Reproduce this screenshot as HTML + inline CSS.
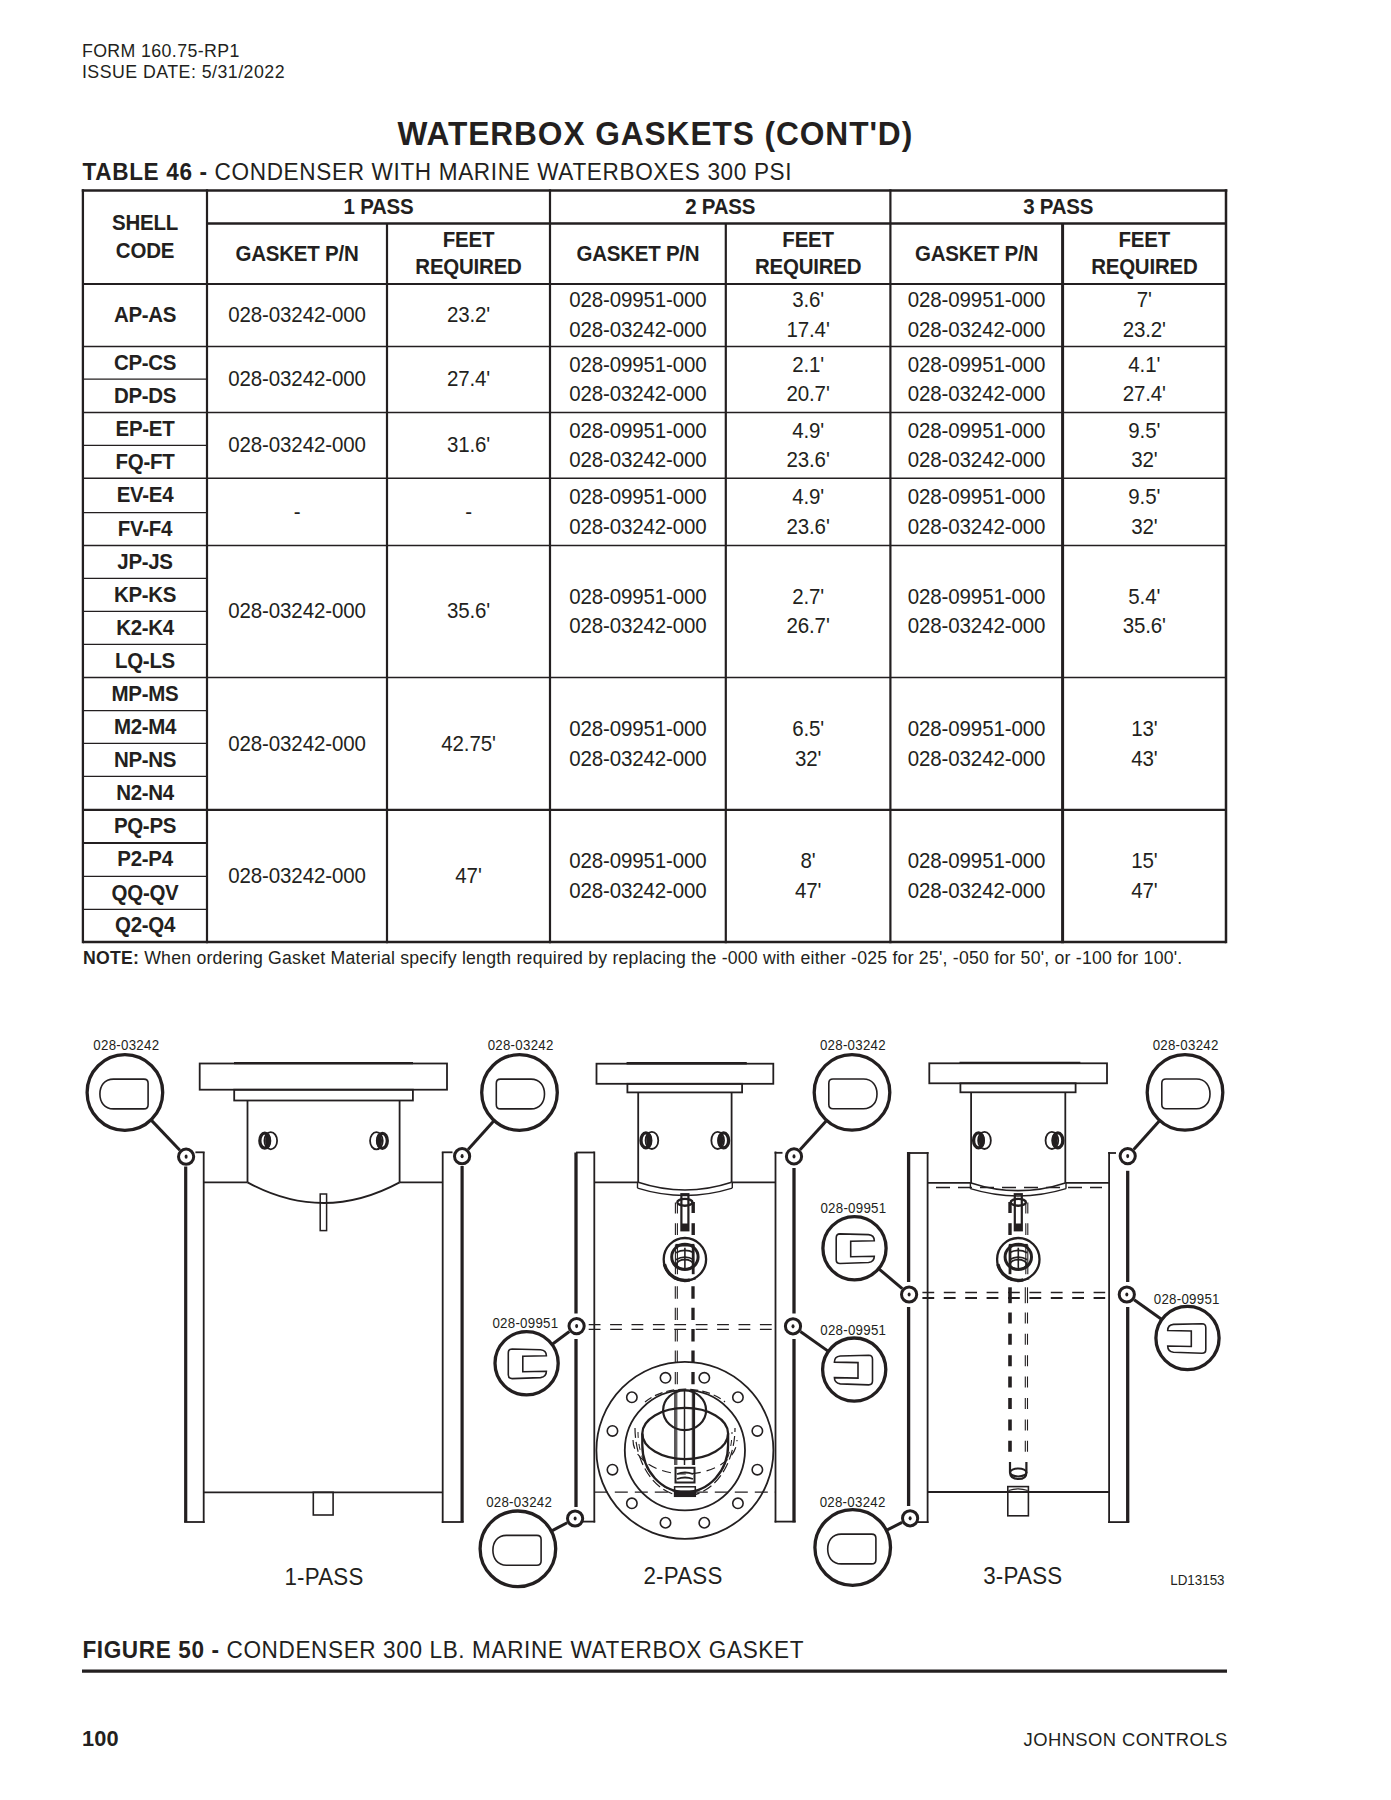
<!DOCTYPE html>
<html><head><meta charset="utf-8"><title>Waterbox Gaskets</title>
<style>
html,body{margin:0;padding:0;background:#fff;}
body{width:1391px;height:1800px;overflow:hidden;position:relative;}
svg{position:absolute;left:0;top:0;}
text{font-family:"Liberation Sans",sans-serif;fill:#231f20;}
</style></head>
<body>
<svg width="1391" height="1800" viewBox="0 0 1391 1800">
<text transform="translate(81.9 57.0) scale(1 1.041)" font-size="17.8" letter-spacing="0.371">FORM 160.75-RP1</text>
<text transform="translate(81.9 77.9) scale(1 1.041)" font-size="17.8" letter-spacing="0.46">ISSUE DATE: 5/31/2022</text>
<text transform="translate(397.4 144.9) scale(1 1.041)" font-size="31.7" letter-spacing="0.917"><tspan font-weight="bold">WATERBOX GASKETS (CONT&#39;D)</tspan></text>
<text transform="translate(82.5 179.9) scale(1 1.041)" font-size="22.6" letter-spacing="0.64"><tspan font-weight="bold">TABLE 46 - </tspan>CONDENSER WITH MARINE WATERBOXES 300 PSI</text>
<g stroke="#231f20" fill="none">
<line x1="81.8" y1="190.5" x2="1227.3" y2="190.5" stroke-width="2.6"/>
<line x1="207" y1="223.5" x2="1226" y2="223.5" stroke-width="2.6"/>
<line x1="83" y1="284" x2="1226" y2="284" stroke-width="2.2"/>
<line x1="83" y1="346.5" x2="1226" y2="346.5" stroke-width="1.5"/>
<line x1="83" y1="412.4" x2="1226" y2="412.4" stroke-width="1.5"/>
<line x1="83" y1="478.3" x2="1226" y2="478.3" stroke-width="1.5"/>
<line x1="83" y1="545.5" x2="1226" y2="545.5" stroke-width="1.5"/>
<line x1="83" y1="677.5" x2="1226" y2="677.5" stroke-width="1.5"/>
<line x1="83" y1="809.9" x2="1226" y2="809.9" stroke-width="2.1"/>
<line x1="83" y1="942" x2="1226" y2="942" stroke-width="2.6"/>
<line x1="83" y1="379.2" x2="207" y2="379.2" stroke-width="1.3"/>
<line x1="83" y1="445.4" x2="207" y2="445.4" stroke-width="1.3"/>
<line x1="83" y1="512.6" x2="207" y2="512.6" stroke-width="1.3"/>
<line x1="83" y1="578.3" x2="207" y2="578.3" stroke-width="1.3"/>
<line x1="83" y1="611.4" x2="207" y2="611.4" stroke-width="1.3"/>
<line x1="83" y1="644.4" x2="207" y2="644.4" stroke-width="1.3"/>
<line x1="83" y1="710.6" x2="207" y2="710.6" stroke-width="1.3"/>
<line x1="83" y1="743.3" x2="207" y2="743.3" stroke-width="1.3"/>
<line x1="83" y1="776.4" x2="207" y2="776.4" stroke-width="1.3"/>
<line x1="83" y1="842.9" x2="207" y2="842.9" stroke-width="2.0"/>
<line x1="83" y1="876.3" x2="207" y2="876.3" stroke-width="1.3"/>
<line x1="83" y1="909.3" x2="207" y2="909.3" stroke-width="1.3"/>
<line x1="82.9" y1="189.2" x2="82.9" y2="943.3" stroke-width="2.3"/>
<line x1="207" y1="189.2" x2="207" y2="943.3" stroke-width="2.2"/>
<line x1="387" y1="223.5" x2="387" y2="943.3" stroke-width="2.2"/>
<line x1="550" y1="189.2" x2="550" y2="943.3" stroke-width="2.2"/>
<line x1="725.8" y1="223.5" x2="725.8" y2="943.3" stroke-width="2.2"/>
<line x1="890.4" y1="189.2" x2="890.4" y2="943.3" stroke-width="2.2"/>
<line x1="1062.6" y1="223.5" x2="1062.6" y2="943.3" stroke-width="3.0"/>
<line x1="1226" y1="189.2" x2="1226" y2="943.3" stroke-width="2.5"/>
</g>
<text transform="translate(145 230) scale(1 1.041)" font-size="20.5" font-weight="bold" text-anchor="middle" letter-spacing="-0.222">SHELL</text>
<text transform="translate(145 257.7) scale(1 1.041)" font-size="20.5" font-weight="bold" text-anchor="middle" letter-spacing="-0.222">CODE</text>
<text transform="translate(378.5 213.8) scale(1 1.041)" font-size="20.5" font-weight="bold" text-anchor="middle" letter-spacing="-0.222">1 PASS</text>
<text transform="translate(297.0 260.9) scale(1 1.041)" font-size="20.5" font-weight="bold" text-anchor="middle" letter-spacing="-0.222">GASKET P/N</text>
<text transform="translate(468.5 246.8) scale(1 1.041)" font-size="20.5" font-weight="bold" text-anchor="middle" letter-spacing="-0.222">FEET</text>
<text transform="translate(468.5 274.1) scale(1 1.041)" font-size="20.5" font-weight="bold" text-anchor="middle" letter-spacing="-0.222">REQUIRED</text>
<text transform="translate(720.2 213.8) scale(1 1.041)" font-size="20.5" font-weight="bold" text-anchor="middle" letter-spacing="-0.222">2 PASS</text>
<text transform="translate(637.9 260.9) scale(1 1.041)" font-size="20.5" font-weight="bold" text-anchor="middle" letter-spacing="-0.222">GASKET P/N</text>
<text transform="translate(808.1 246.8) scale(1 1.041)" font-size="20.5" font-weight="bold" text-anchor="middle" letter-spacing="-0.222">FEET</text>
<text transform="translate(808.1 274.1) scale(1 1.041)" font-size="20.5" font-weight="bold" text-anchor="middle" letter-spacing="-0.222">REQUIRED</text>
<text transform="translate(1058.2 213.8) scale(1 1.041)" font-size="20.5" font-weight="bold" text-anchor="middle" letter-spacing="-0.222">3 PASS</text>
<text transform="translate(976.5 260.9) scale(1 1.041)" font-size="20.5" font-weight="bold" text-anchor="middle" letter-spacing="-0.222">GASKET P/N</text>
<text transform="translate(1144.3 246.8) scale(1 1.041)" font-size="20.5" font-weight="bold" text-anchor="middle" letter-spacing="-0.222">FEET</text>
<text transform="translate(1144.3 274.1) scale(1 1.041)" font-size="20.5" font-weight="bold" text-anchor="middle" letter-spacing="-0.222">REQUIRED</text>
<text transform="translate(145 322.1) scale(1 1.041)" font-size="20.5" font-weight="bold" text-anchor="middle" letter-spacing="-0.3">AP-AS</text>
<text transform="translate(297.0 322.1) scale(1 1.041)" font-size="20.5" text-anchor="middle" letter-spacing="-0.117">028-03242-000</text>
<text transform="translate(468.5 322.1) scale(1 1.041)" font-size="20.5" text-anchor="middle" letter-spacing="-0.117">23.2&#39;</text>
<text transform="translate(637.9 307.4) scale(1 1.041)" font-size="20.5" text-anchor="middle" letter-spacing="-0.117">028-09951-000</text>
<text transform="translate(637.9 336.8) scale(1 1.041)" font-size="20.5" text-anchor="middle" letter-spacing="-0.117">028-03242-000</text>
<text transform="translate(976.5 307.4) scale(1 1.041)" font-size="20.5" text-anchor="middle" letter-spacing="-0.117">028-09951-000</text>
<text transform="translate(976.5 336.8) scale(1 1.041)" font-size="20.5" text-anchor="middle" letter-spacing="-0.117">028-03242-000</text>
<text transform="translate(808.1 307.4) scale(1 1.041)" font-size="20.5" text-anchor="middle" letter-spacing="-0.117">3.6&#39;</text>
<text transform="translate(808.1 336.8) scale(1 1.041)" font-size="20.5" text-anchor="middle" letter-spacing="-0.117">17.4&#39;</text>
<text transform="translate(1144.3 307.4) scale(1 1.041)" font-size="20.5" text-anchor="middle" letter-spacing="-0.117">7&#39;</text>
<text transform="translate(1144.3 336.8) scale(1 1.041)" font-size="20.5" text-anchor="middle" letter-spacing="-0.117">23.2&#39;</text>
<text transform="translate(145 369.7) scale(1 1.041)" font-size="20.5" font-weight="bold" text-anchor="middle" letter-spacing="-0.3">CP-CS</text>
<text transform="translate(145 402.6) scale(1 1.041)" font-size="20.5" font-weight="bold" text-anchor="middle" letter-spacing="-0.3">DP-DS</text>
<text transform="translate(297.0 386.2) scale(1 1.041)" font-size="20.5" text-anchor="middle" letter-spacing="-0.117">028-03242-000</text>
<text transform="translate(468.5 386.2) scale(1 1.041)" font-size="20.5" text-anchor="middle" letter-spacing="-0.117">27.4&#39;</text>
<text transform="translate(637.9 371.6) scale(1 1.041)" font-size="20.5" text-anchor="middle" letter-spacing="-0.117">028-09951-000</text>
<text transform="translate(637.9 400.9) scale(1 1.041)" font-size="20.5" text-anchor="middle" letter-spacing="-0.117">028-03242-000</text>
<text transform="translate(976.5 371.6) scale(1 1.041)" font-size="20.5" text-anchor="middle" letter-spacing="-0.117">028-09951-000</text>
<text transform="translate(976.5 400.9) scale(1 1.041)" font-size="20.5" text-anchor="middle" letter-spacing="-0.117">028-03242-000</text>
<text transform="translate(808.1 371.6) scale(1 1.041)" font-size="20.5" text-anchor="middle" letter-spacing="-0.117">2.1&#39;</text>
<text transform="translate(808.1 400.9) scale(1 1.041)" font-size="20.5" text-anchor="middle" letter-spacing="-0.117">20.7&#39;</text>
<text transform="translate(1144.3 371.6) scale(1 1.041)" font-size="20.5" text-anchor="middle" letter-spacing="-0.117">4.1&#39;</text>
<text transform="translate(1144.3 400.9) scale(1 1.041)" font-size="20.5" text-anchor="middle" letter-spacing="-0.117">27.4&#39;</text>
<text transform="translate(145 435.7) scale(1 1.041)" font-size="20.5" font-weight="bold" text-anchor="middle" letter-spacing="-0.3">EP-ET</text>
<text transform="translate(145 468.7) scale(1 1.041)" font-size="20.5" font-weight="bold" text-anchor="middle" letter-spacing="-0.3">FQ-FT</text>
<text transform="translate(297.0 452.2) scale(1 1.041)" font-size="20.5" text-anchor="middle" letter-spacing="-0.117">028-03242-000</text>
<text transform="translate(468.5 452.2) scale(1 1.041)" font-size="20.5" text-anchor="middle" letter-spacing="-0.117">31.6&#39;</text>
<text transform="translate(637.9 437.5) scale(1 1.041)" font-size="20.5" text-anchor="middle" letter-spacing="-0.117">028-09951-000</text>
<text transform="translate(637.9 466.9) scale(1 1.041)" font-size="20.5" text-anchor="middle" letter-spacing="-0.117">028-03242-000</text>
<text transform="translate(976.5 437.5) scale(1 1.041)" font-size="20.5" text-anchor="middle" letter-spacing="-0.117">028-09951-000</text>
<text transform="translate(976.5 466.9) scale(1 1.041)" font-size="20.5" text-anchor="middle" letter-spacing="-0.117">028-03242-000</text>
<text transform="translate(808.1 437.5) scale(1 1.041)" font-size="20.5" text-anchor="middle" letter-spacing="-0.117">4.9&#39;</text>
<text transform="translate(808.1 466.9) scale(1 1.041)" font-size="20.5" text-anchor="middle" letter-spacing="-0.117">23.6&#39;</text>
<text transform="translate(1144.3 437.5) scale(1 1.041)" font-size="20.5" text-anchor="middle" letter-spacing="-0.117">9.5&#39;</text>
<text transform="translate(1144.3 466.9) scale(1 1.041)" font-size="20.5" text-anchor="middle" letter-spacing="-0.117">32&#39;</text>
<text transform="translate(145 502.3) scale(1 1.041)" font-size="20.5" font-weight="bold" text-anchor="middle" letter-spacing="-0.3">EV-E4</text>
<text transform="translate(145 535.8) scale(1 1.041)" font-size="20.5" font-weight="bold" text-anchor="middle" letter-spacing="-0.3">FV-F4</text>
<text transform="translate(297.0 518.7) scale(1 1.041)" font-size="20.5" text-anchor="middle" letter-spacing="-0.117">-</text>
<text transform="translate(468.5 518.7) scale(1 1.041)" font-size="20.5" text-anchor="middle" letter-spacing="-0.117">-</text>
<text transform="translate(637.9 504.0) scale(1 1.041)" font-size="20.5" text-anchor="middle" letter-spacing="-0.117">028-09951-000</text>
<text transform="translate(637.9 534.2) scale(1 1.041)" font-size="20.5" text-anchor="middle" letter-spacing="-0.117">028-03242-000</text>
<text transform="translate(976.5 504.0) scale(1 1.041)" font-size="20.5" text-anchor="middle" letter-spacing="-0.117">028-09951-000</text>
<text transform="translate(976.5 534.2) scale(1 1.041)" font-size="20.5" text-anchor="middle" letter-spacing="-0.117">028-03242-000</text>
<text transform="translate(808.1 504.0) scale(1 1.041)" font-size="20.5" text-anchor="middle" letter-spacing="-0.117">4.9&#39;</text>
<text transform="translate(808.1 534.2) scale(1 1.041)" font-size="20.5" text-anchor="middle" letter-spacing="-0.117">23.6&#39;</text>
<text transform="translate(1144.3 504.0) scale(1 1.041)" font-size="20.5" text-anchor="middle" letter-spacing="-0.117">9.5&#39;</text>
<text transform="translate(1144.3 534.2) scale(1 1.041)" font-size="20.5" text-anchor="middle" letter-spacing="-0.117">32&#39;</text>
<text transform="translate(145 568.7) scale(1 1.041)" font-size="20.5" font-weight="bold" text-anchor="middle" letter-spacing="-0.3">JP-JS</text>
<text transform="translate(145 601.6) scale(1 1.041)" font-size="20.5" font-weight="bold" text-anchor="middle" letter-spacing="-0.3">KP-KS</text>
<text transform="translate(145 634.7) scale(1 1.041)" font-size="20.5" font-weight="bold" text-anchor="middle" letter-spacing="-0.3">K2-K4</text>
<text transform="translate(145 667.8) scale(1 1.041)" font-size="20.5" font-weight="bold" text-anchor="middle" letter-spacing="-0.3">LQ-LS</text>
<text transform="translate(297.0 618.3) scale(1 1.041)" font-size="20.5" text-anchor="middle" letter-spacing="-0.117">028-03242-000</text>
<text transform="translate(468.5 618.3) scale(1 1.041)" font-size="20.5" text-anchor="middle" letter-spacing="-0.117">35.6&#39;</text>
<text transform="translate(637.9 603.6) scale(1 1.041)" font-size="20.5" text-anchor="middle" letter-spacing="-0.117">028-09951-000</text>
<text transform="translate(637.9 633.0) scale(1 1.041)" font-size="20.5" text-anchor="middle" letter-spacing="-0.117">028-03242-000</text>
<text transform="translate(976.5 603.6) scale(1 1.041)" font-size="20.5" text-anchor="middle" letter-spacing="-0.117">028-09951-000</text>
<text transform="translate(976.5 633.0) scale(1 1.041)" font-size="20.5" text-anchor="middle" letter-spacing="-0.117">028-03242-000</text>
<text transform="translate(808.1 603.6) scale(1 1.041)" font-size="20.5" text-anchor="middle" letter-spacing="-0.117">2.7&#39;</text>
<text transform="translate(808.1 633.0) scale(1 1.041)" font-size="20.5" text-anchor="middle" letter-spacing="-0.117">26.7&#39;</text>
<text transform="translate(1144.3 603.6) scale(1 1.041)" font-size="20.5" text-anchor="middle" letter-spacing="-0.117">5.4&#39;</text>
<text transform="translate(1144.3 633.0) scale(1 1.041)" font-size="20.5" text-anchor="middle" letter-spacing="-0.117">35.6&#39;</text>
<text transform="translate(145 700.8) scale(1 1.041)" font-size="20.5" font-weight="bold" text-anchor="middle" letter-spacing="-0.3">MP-MS</text>
<text transform="translate(145 733.8) scale(1 1.041)" font-size="20.5" font-weight="bold" text-anchor="middle" letter-spacing="-0.3">M2-M4</text>
<text transform="translate(145 766.6) scale(1 1.041)" font-size="20.5" font-weight="bold" text-anchor="middle" letter-spacing="-0.3">NP-NS</text>
<text transform="translate(145 799.9) scale(1 1.041)" font-size="20.5" font-weight="bold" text-anchor="middle" letter-spacing="-0.3">N2-N4</text>
<text transform="translate(297.0 750.5) scale(1 1.041)" font-size="20.5" text-anchor="middle" letter-spacing="-0.117">028-03242-000</text>
<text transform="translate(468.5 750.5) scale(1 1.041)" font-size="20.5" text-anchor="middle" letter-spacing="-0.117">42.75&#39;</text>
<text transform="translate(637.9 735.8) scale(1 1.041)" font-size="20.5" text-anchor="middle" letter-spacing="-0.117">028-09951-000</text>
<text transform="translate(637.9 766.4) scale(1 1.041)" font-size="20.5" text-anchor="middle" letter-spacing="-0.117">028-03242-000</text>
<text transform="translate(976.5 735.8) scale(1 1.041)" font-size="20.5" text-anchor="middle" letter-spacing="-0.117">028-09951-000</text>
<text transform="translate(976.5 766.4) scale(1 1.041)" font-size="20.5" text-anchor="middle" letter-spacing="-0.117">028-03242-000</text>
<text transform="translate(808.1 735.8) scale(1 1.041)" font-size="20.5" text-anchor="middle" letter-spacing="-0.117">6.5&#39;</text>
<text transform="translate(808.1 766.4) scale(1 1.041)" font-size="20.5" text-anchor="middle" letter-spacing="-0.117">32&#39;</text>
<text transform="translate(1144.3 735.8) scale(1 1.041)" font-size="20.5" text-anchor="middle" letter-spacing="-0.117">13&#39;</text>
<text transform="translate(1144.3 766.4) scale(1 1.041)" font-size="20.5" text-anchor="middle" letter-spacing="-0.117">43&#39;</text>
<text transform="translate(145 833.2) scale(1 1.041)" font-size="20.5" font-weight="bold" text-anchor="middle" letter-spacing="-0.3">PQ-PS</text>
<text transform="translate(145 866.4) scale(1 1.041)" font-size="20.5" font-weight="bold" text-anchor="middle" letter-spacing="-0.3">P2-P4</text>
<text transform="translate(145 899.6) scale(1 1.041)" font-size="20.5" font-weight="bold" text-anchor="middle" letter-spacing="-0.3">QQ-QV</text>
<text transform="translate(145 932.4) scale(1 1.041)" font-size="20.5" font-weight="bold" text-anchor="middle" letter-spacing="-0.3">Q2-Q4</text>
<text transform="translate(297.0 882.8) scale(1 1.041)" font-size="20.5" text-anchor="middle" letter-spacing="-0.117">028-03242-000</text>
<text transform="translate(468.5 882.8) scale(1 1.041)" font-size="20.5" text-anchor="middle" letter-spacing="-0.117">47&#39;</text>
<text transform="translate(637.9 868.1) scale(1 1.041)" font-size="20.5" text-anchor="middle" letter-spacing="-0.117">028-09951-000</text>
<text transform="translate(637.9 897.5) scale(1 1.041)" font-size="20.5" text-anchor="middle" letter-spacing="-0.117">028-03242-000</text>
<text transform="translate(976.5 868.1) scale(1 1.041)" font-size="20.5" text-anchor="middle" letter-spacing="-0.117">028-09951-000</text>
<text transform="translate(976.5 897.5) scale(1 1.041)" font-size="20.5" text-anchor="middle" letter-spacing="-0.117">028-03242-000</text>
<text transform="translate(808.1 868.1) scale(1 1.041)" font-size="20.5" text-anchor="middle" letter-spacing="-0.117">8&#39;</text>
<text transform="translate(808.1 897.5) scale(1 1.041)" font-size="20.5" text-anchor="middle" letter-spacing="-0.117">47&#39;</text>
<text transform="translate(1144.3 868.1) scale(1 1.041)" font-size="20.5" text-anchor="middle" letter-spacing="-0.117">15&#39;</text>
<text transform="translate(1144.3 897.5) scale(1 1.041)" font-size="20.5" text-anchor="middle" letter-spacing="-0.117">47&#39;</text>
<text transform="translate(83.0 963.9) scale(1 1.041)" font-size="17.7" letter-spacing="0.215"><tspan font-weight="bold">NOTE:</tspan> When ordering Gasket Material specify length required by replacing the -000 with either -025 for 25&#39;, -050 for 50&#39;, or -100 for 100&#39;.</text>
<g stroke="#231f20" fill="none" stroke-linecap="butt">
<circle cx="124.9" cy="1092.5" r="37.8" stroke-width="3.3"/>
<path d="M 113.4,1079.1 H 143.9 Q 148.1,1079.1 148.1,1083.3 V 1104.7 Q 148.1,1108.9 143.9,1108.9 H 113.4 C 104.4,1108.9 99.9,1102.0 99.9,1094.0 C 99.9,1086.0 104.4,1079.1 113.4,1079.1 Z" stroke-width="1.6"/>
<line x1="150.98" y1="1119.86" x2="179.89" y2="1150.19" stroke-width="3.0"/>
<circle cx="519.5" cy="1092.5" r="37.8" stroke-width="3.3"/>
<path d="M 531.0,1079.1 H 500.5 Q 496.3,1079.1 496.3,1083.3 V 1104.7 Q 496.3,1108.9 500.5,1108.9 H 531.0 C 540.0,1108.9 544.5,1102.0 544.5,1094.0 C 544.5,1086.0 540.0,1079.1 531.0,1079.1 Z" stroke-width="1.6"/>
<line x1="494.2" y1="1120.58" x2="468.12" y2="1149.51" stroke-width="3.0"/>
<circle cx="852.0" cy="1092.4" r="37.8" stroke-width="3.3"/>
<path d="M 863.5,1079.0 H 833.0 Q 828.8,1079.0 828.8,1083.2 V 1104.6 Q 828.8,1108.8 833.0,1108.8 H 863.5 C 872.5,1108.8 877.0,1101.9 877.0,1093.9 C 877.0,1085.9 872.5,1079.0 863.5,1079.0 Z" stroke-width="1.6"/>
<line x1="826.62" y1="1120.41" x2="800.04" y2="1149.73" stroke-width="3.0"/>
<circle cx="1185.0" cy="1092.4" r="37.8" stroke-width="3.3"/>
<path d="M 1196.5,1079.0 H 1166.0 Q 1161.8,1079.0 1161.8,1083.2 V 1104.6 Q 1161.8,1108.8 1166.0,1108.8 H 1196.5 C 1205.5,1108.8 1210.0,1101.9 1210.0,1093.9 C 1210.0,1085.9 1205.5,1079.0 1196.5,1079.0 Z" stroke-width="1.6"/>
<line x1="1159.72" y1="1120.5" x2="1133.72" y2="1149.41" stroke-width="3.0"/>
<circle cx="517.9" cy="1548.8" r="37.8" stroke-width="3.3"/>
<path d="M 506.4,1535.4 H 536.9 Q 541.1,1535.4 541.1,1539.6 V 1561.0 Q 541.1,1565.2 536.9,1565.2 H 506.4 C 497.4,1565.2 492.9,1558.3 492.9,1550.3 C 492.9,1542.3 497.4,1535.4 506.4,1535.4 Z" stroke-width="1.6"/>
<line x1="551.3" y1="1531.11" x2="567.15" y2="1522.71" stroke-width="3.0"/>
<circle cx="852.7" cy="1547.5" r="37.8" stroke-width="3.3"/>
<path d="M 841.2,1534.1 H 871.7 Q 875.9,1534.1 875.9,1538.3 V 1559.7 Q 875.9,1563.9 871.7,1563.9 H 841.2 C 832.2,1563.9 827.7,1557.0 827.7,1549.0 C 827.7,1541.0 832.2,1534.1 841.2,1534.1 Z" stroke-width="1.6"/>
<line x1="886.39" y1="1530.36" x2="902.08" y2="1522.38" stroke-width="3.0"/>
<circle cx="854.5" cy="1248.2" r="31.6" stroke-width="3.3"/>
<path d="M 840.0,1233.9 L 868.5,1234.6 Q 874.3,1235.2 874.3,1240.7 L 850.7,1241.2 L 850.7,1256.7 L 874.3,1256.2 Q 874.3,1261.7 868.5,1262.5 L 840.0,1263.5 Q 836.2,1263.5 836.2,1259.7 L 836.2,1237.9 Q 836.2,1233.9 840.0,1233.9 Z" stroke-width="1.6"/>
<line x1="878.6" y1="1268.64" x2="902.24" y2="1288.68" stroke-width="3.0"/>
<circle cx="526.6" cy="1363.3" r="31.6" stroke-width="3.3"/>
<path d="M 512.1,1349.0 L 540.6,1349.7 Q 546.4,1350.3 546.4,1355.8 L 522.8,1356.3 L 522.8,1371.8 L 546.4,1371.3 Q 546.4,1376.8 540.6,1377.6 L 512.1,1378.6 Q 508.3,1378.6 508.3,1374.8 L 508.3,1353.0 Q 508.3,1349.0 512.1,1349.0 Z" stroke-width="1.6"/>
<line x1="551.95" y1="1344.44" x2="569.38" y2="1331.47" stroke-width="3.0"/>
<circle cx="854.2" cy="1369.6" r="31.6" stroke-width="3.3"/>
<path d="M 868.7,1355.3 L 840.2,1356.0 Q 834.4,1356.6 834.4,1362.1 L 858.0,1362.6 L 858.0,1378.1 L 834.4,1377.6 Q 834.4,1383.1 840.2,1383.9 L 868.7,1384.9 Q 872.5,1384.9 872.5,1381.1 L 872.5,1359.3 Q 872.5,1355.3 868.7,1355.3 Z" stroke-width="1.6"/>
<line x1="828.4" y1="1351.35" x2="800.35" y2="1331.5" stroke-width="3.0"/>
<circle cx="1187.5" cy="1338.0" r="31.6" stroke-width="3.3"/>
<path d="M 1202.0,1323.7 L 1173.5,1324.4 Q 1167.7,1325.0 1167.7,1330.5 L 1191.3,1331.0 L 1191.3,1346.5 L 1167.7,1346.0 Q 1167.7,1351.5 1173.5,1352.3 L 1202.0,1353.3 Q 1205.8,1353.3 1205.8,1349.5 L 1205.8,1327.7 Q 1205.8,1323.7 1202.0,1323.7 Z" stroke-width="1.6"/>
<line x1="1161.81" y1="1319.59" x2="1134.12" y2="1299.74" stroke-width="3.0"/>
<rect x="199.7" y="1063.5" width="247.3" height="26.2" stroke-width="1.8"/>
<line x1="234.0" y1="1063.1" x2="413.0" y2="1063.1" stroke-width="2.4"/>
<rect x="234.2" y="1089.7" width="178.7" height="10.8" stroke-width="1.8"/>
<line x1="247.5" y1="1100.5" x2="247.5" y2="1182.4" stroke-width="1.8"/>
<line x1="399.6" y1="1100.5" x2="399.6" y2="1182.4" stroke-width="1.8"/>
<path d="M 247.5,1182.4 Q 323.5,1223.6 399.6,1182.4" stroke-width="1.8"/>
<rect x="320.2" y="1194.0" width="6.4" height="36.6" stroke-width="1.5"/>
<ellipse cx="264.75" cy="1140.7" rx="4.9" ry="7.5" stroke-width="3.3"/>
<ellipse cx="270.75" cy="1140.7" rx="6.35" ry="8.6" stroke-width="1.8"/>
<ellipse cx="268.0" cy="1140.7" rx="2.9" ry="6.8" fill="#231f20" stroke="none"/>
<ellipse cx="382.4" cy="1140.8" rx="4.9" ry="7.5" stroke-width="3.3"/>
<ellipse cx="376.4" cy="1140.8" rx="6.35" ry="8.6" stroke-width="1.8"/>
<ellipse cx="379.15" cy="1140.8" rx="2.9" ry="6.8" fill="#231f20" stroke="none"/>
<line x1="185.7" y1="1166.5" x2="185.7" y2="1522.0" stroke-width="3.2"/>
<line x1="203.7" y1="1152.3" x2="203.7" y2="1522.9" stroke-width="1.8"/>
<line x1="195.4" y1="1152.3" x2="204.6" y2="1152.3" stroke-width="1.8"/>
<line x1="184.1" y1="1522.0" x2="204.6" y2="1522.0" stroke-width="1.8"/>
<line x1="203.7" y1="1182.4" x2="247.5" y2="1182.4" stroke-width="1.8"/>
<line x1="399.6" y1="1182.4" x2="442.7" y2="1182.4" stroke-width="1.8"/>
<line x1="442.7" y1="1152.3" x2="442.7" y2="1522.9" stroke-width="1.8"/>
<line x1="441.8" y1="1152.3" x2="452.5" y2="1152.3" stroke-width="1.8"/>
<line x1="462.1" y1="1166.0" x2="462.1" y2="1522.0" stroke-width="3.2"/>
<line x1="441.8" y1="1522.0" x2="463.7" y2="1522.0" stroke-width="1.8"/>
<line x1="203.7" y1="1492.3" x2="442.7" y2="1492.3" stroke-width="1.8"/>
<rect x="313.3" y="1492.3" width="19.8" height="22.7" stroke-width="1.6"/>
<circle cx="186.1" cy="1156.7" r="7.6" stroke-width="3.0"/>
<ellipse cx="186.1" cy="1156.7" rx="1.5" ry="2.1" fill="#231f20" stroke="none"/>
<circle cx="462.1" cy="1156.2" r="7.6" stroke-width="3.0"/>
<ellipse cx="462.1" cy="1156.2" rx="1.5" ry="2.1" fill="#231f20" stroke="none"/>
<rect x="596.5" y="1063.7" width="176.8" height="20.1" stroke-width="1.8"/>
<line x1="626.56" y1="1063.3" x2="746.78" y2="1063.3" stroke-width="2.4"/>
<rect x="627.4" y="1083.8" width="114.7" height="8.6" stroke-width="1.8"/>
<line x1="638.2" y1="1092.4" x2="638.2" y2="1182.3" stroke-width="1.8"/>
<line x1="731.6" y1="1092.4" x2="731.6" y2="1182.3" stroke-width="1.8"/>
<path d="M 638.2,1182.3 Q 684.9000000000001,1197.8 731.6,1182.3" stroke-width="1.6"/>
<path d="M 637.5,1188.1 Q 684.9000000000001,1202.8 732.3000000000001,1188.1" stroke-width="1.4"/>
<line x1="637.5" y1="1182.3" x2="637.5" y2="1188.1" stroke-width="1.4"/>
<line x1="732.3000000000001" y1="1182.3" x2="732.3000000000001" y2="1188.1" stroke-width="1.4"/>
<ellipse cx="645.9" cy="1140.4" rx="4.9" ry="7.5" stroke-width="3.3"/>
<ellipse cx="651.9" cy="1140.4" rx="6.35" ry="8.6" stroke-width="1.8"/>
<ellipse cx="649.15" cy="1140.4" rx="2.9" ry="6.8" fill="#231f20" stroke="none"/>
<ellipse cx="723.7" cy="1140.4" rx="4.9" ry="7.5" stroke-width="3.3"/>
<ellipse cx="717.7" cy="1140.4" rx="6.35" ry="8.6" stroke-width="1.8"/>
<ellipse cx="720.45" cy="1140.4" rx="2.9" ry="6.8" fill="#231f20" stroke="none"/>
<rect x="681.4000000000001" y="1194.2" width="7.0" height="36.1" stroke-width="2.2"/>
<rect x="681.4" y="1223.5" width="7" height="6.8" fill="#231f20" stroke="none"/>
<ellipse cx="684.9000000000001" cy="1202.3" rx="7.6" ry="3.4" stroke-width="2.4"/>
<line x1="693.2" y1="1202.0" x2="693.2" y2="1213.0" stroke-width="3.4"/>
<line x1="693.2" y1="1223.2" x2="693.2" y2="1235.0" stroke-width="3.4"/>
<line x1="675.4" y1="1202.5" x2="675.4" y2="1213.6" stroke-width="1.1"/>
<line x1="675.4" y1="1223.2" x2="675.4" y2="1235.0" stroke-width="1.1"/>
<line x1="677.4" y1="1202.5" x2="677.4" y2="1213.6" stroke-width="1.1"/>
<line x1="677.4" y1="1223.2" x2="677.4" y2="1235.0" stroke-width="1.1"/>
<circle cx="684.9000000000001" cy="1259.2" r="21.2" stroke-width="2.3"/>
<path d="M 664.4,1264.2 A 21.2,21.2 0 0 0 689.9,1279.8" stroke-width="3.4"/>
<ellipse cx="684.9000000000001" cy="1256.9" rx="13.2" ry="12.6" stroke-width="3.0"/>
<line x1="675.4" y1="1245.2" x2="694.4" y2="1245.2" stroke-width="2.6"/>
<line x1="693.2" y1="1245.2" x2="693.2" y2="1274.2" stroke-width="2.8"/>
<line x1="675.4" y1="1245.2" x2="675.4" y2="1274.2" stroke-width="1.1"/>
<line x1="677.4" y1="1245.2" x2="677.4" y2="1274.2" stroke-width="1.1"/>
<line x1="684.9000000000001" y1="1247.7" x2="684.9000000000001" y2="1268.2" stroke-width="1.6"/>
<path d="M 675.9,1252.7 Q 684.9000000000001,1248.2 693.9,1252.7" stroke-width="1.8"/>
<path d="M 675.9,1259.7 Q 684.9000000000001,1254.7 693.9,1259.7" stroke-width="1.8"/>
<ellipse cx="684.9000000000001" cy="1264.2" rx="8.3" ry="4.6" stroke-width="1.8"/>
<path d="M 673.9,1278.7 Q 684.9000000000001,1283.2 695.9,1278.7" stroke-width="1.3"/>
<line x1="594.3" y1="1182.3" x2="638.2" y2="1182.3" stroke-width="1.8"/>
<line x1="731.6" y1="1182.3" x2="775.5" y2="1182.3" stroke-width="1.8"/>
<line x1="576.0" y1="1152.5" x2="594.3" y2="1152.5" stroke-width="1.8"/>
<line x1="594.3" y1="1151.6" x2="594.3" y2="1522.4" stroke-width="1.8"/>
<line x1="576.0" y1="1152.5" x2="576.0" y2="1313.5" stroke-width="3.3"/>
<line x1="576.0" y1="1339.0" x2="576.0" y2="1507.0" stroke-width="3.3"/>
<line x1="580.5" y1="1521.6" x2="595.2" y2="1521.6" stroke-width="1.8"/>
<line x1="775.5" y1="1151.6" x2="775.5" y2="1522.4" stroke-width="1.8"/>
<line x1="774.6" y1="1152.8" x2="782.5" y2="1152.8" stroke-width="1.8"/>
<line x1="794.0" y1="1168.0" x2="794.0" y2="1313.5" stroke-width="3.3"/>
<line x1="794.0" y1="1339.0" x2="794.0" y2="1522.4" stroke-width="3.3"/>
<line x1="774.6" y1="1521.6" x2="795.6" y2="1521.6" stroke-width="1.8"/>
<line x1="675.3" y1="1286.3" x2="675.3" y2="1390" stroke-width="1.1" stroke-dasharray="12.4,9"/>
<line x1="677.3" y1="1286.3" x2="677.3" y2="1390" stroke-width="1.1" stroke-dasharray="12.4,9"/>
<line x1="693.0" y1="1286.3" x2="693.0" y2="1390" stroke-width="3.3" stroke-dasharray="12.4,9"/>
<line x1="588.7" y1="1324.6" x2="772.3" y2="1324.6" stroke-width="1.3" stroke-dasharray="11.8,9.6"/>
<line x1="588.7" y1="1329.3" x2="772.3" y2="1329.3" stroke-width="1.3" stroke-dasharray="11.8,9.6"/>
<circle cx="684.9" cy="1450.3" r="88.5" stroke-width="1.8"/>
<circle cx="684.9" cy="1450.3" r="60.1" stroke-width="1.8"/>
<circle cx="757.34" cy="1469.71" r="5.2" stroke-width="1.6"/>
<circle cx="737.93" cy="1503.33" r="5.2" stroke-width="1.6"/>
<circle cx="704.31" cy="1522.74" r="5.2" stroke-width="1.6"/>
<circle cx="665.49" cy="1522.74" r="5.2" stroke-width="1.6"/>
<circle cx="631.87" cy="1503.33" r="5.2" stroke-width="1.6"/>
<circle cx="612.46" cy="1469.71" r="5.2" stroke-width="1.6"/>
<circle cx="612.46" cy="1430.89" r="5.2" stroke-width="1.6"/>
<circle cx="631.87" cy="1397.27" r="5.2" stroke-width="1.6"/>
<circle cx="665.49" cy="1377.86" r="5.2" stroke-width="1.6"/>
<circle cx="704.31" cy="1377.86" r="5.2" stroke-width="1.6"/>
<circle cx="737.93" cy="1397.27" r="5.2" stroke-width="1.6"/>
<circle cx="757.34" cy="1430.89" r="5.2" stroke-width="1.6"/>
<path d="M 642.3,1433.5 L 642.3,1445 A 42.9,47 0 0 0 728.1,1445 L 728.1,1433.5" stroke-width="2.3"/>
<ellipse cx="685.2" cy="1433.5" rx="42.9" ry="25.6" stroke-width="2.3"/>
<path d="M 635,1428 A 50,68 0 0 0 735,1428" stroke-width="1.2" stroke-dasharray="10,4"/>
<path d="M 638,1432 A 47,61 0 0 0 732,1432" stroke-width="1.0" stroke-dasharray="6,6"/>
<path d="M 633,1440 A 52,34 0 0 0 737,1440" stroke-width="1.2" stroke-dasharray="9,6"/>
<path d="M 645,1402 A 50,32 0 0 1 725,1402" stroke-width="1.2" stroke-dasharray="8,4"/>
<ellipse cx="684.6" cy="1410.3" rx="21.5" ry="19.8" stroke-width="2.2"/>
<line x1="675.0" y1="1391" x2="675.0" y2="1465" stroke-width="1.5"/>
<line x1="676.8" y1="1391" x2="676.8" y2="1465" stroke-width="1.0"/>
<line x1="684.5" y1="1391" x2="684.5" y2="1465" stroke-width="1.5"/>
<line x1="692.3" y1="1391" x2="692.3" y2="1465" stroke-width="1.0"/>
<line x1="694.0" y1="1391" x2="694.0" y2="1465" stroke-width="2.2"/>
<rect x="675.5" y="1467.8" width="19.0" height="14.7" stroke-width="2.0"/>
<path d="M 677,1474 Q 685,1471 693,1474" stroke-width="1.8"/>
<path d="M 677,1479 Q 685,1476 693,1479" stroke-width="1.8"/>
<rect x="674.6" y="1486.8" width="20.7" height="9.5" stroke-width="1.5"/>
<rect x="674.6" y="1490.5" width="20.7" height="5.8" fill="#231f20" stroke="none"/>
<line x1="594.8" y1="1492.1" x2="775.8" y2="1492.1" stroke-width="1.2" stroke-dasharray="13,7"/>
<circle cx="576.6" cy="1326.1" r="7.6" stroke-width="3.0"/>
<ellipse cx="576.6" cy="1326.1" rx="1.5" ry="2.1" fill="#231f20" stroke="none"/>
<circle cx="575.1" cy="1518.5" r="7.6" stroke-width="3.0"/>
<ellipse cx="575.1" cy="1518.5" rx="1.5" ry="2.1" fill="#231f20" stroke="none"/>
<circle cx="794.0" cy="1156.4" r="7.6" stroke-width="3.0"/>
<ellipse cx="794.0" cy="1156.4" rx="1.5" ry="2.1" fill="#231f20" stroke="none"/>
<circle cx="793.0" cy="1326.3" r="7.6" stroke-width="3.0"/>
<ellipse cx="793.0" cy="1326.3" rx="1.5" ry="2.1" fill="#231f20" stroke="none"/>
<rect x="929.3" y="1063.3" width="177.7" height="20.0" stroke-width="1.8"/>
<line x1="959.51" y1="1062.8999999999999" x2="1080.35" y2="1062.8999999999999" stroke-width="2.4"/>
<rect x="960.4" y="1083.3" width="115.2" height="9.0" stroke-width="1.8"/>
<line x1="971.1" y1="1092.3" x2="971.1" y2="1182.9" stroke-width="1.8"/>
<line x1="1065.3" y1="1092.3" x2="1065.3" y2="1182.9" stroke-width="1.8"/>
<path d="M 971.1,1182.9 Q 1018.2,1198.4 1065.3,1182.9" stroke-width="1.6"/>
<path d="M 970.4,1188.7 Q 1018.2,1203.4 1066.0,1188.7" stroke-width="1.4"/>
<line x1="970.4" y1="1182.9" x2="970.4" y2="1188.7" stroke-width="1.4"/>
<line x1="1066.0" y1="1182.9" x2="1066.0" y2="1188.7" stroke-width="1.4"/>
<ellipse cx="978.5" cy="1140.4" rx="4.9" ry="7.5" stroke-width="3.3"/>
<ellipse cx="984.5" cy="1140.4" rx="6.35" ry="8.6" stroke-width="1.8"/>
<ellipse cx="981.75" cy="1140.4" rx="2.9" ry="6.8" fill="#231f20" stroke="none"/>
<ellipse cx="1057.9" cy="1140.4" rx="4.9" ry="7.5" stroke-width="3.3"/>
<ellipse cx="1051.9" cy="1140.4" rx="6.35" ry="8.6" stroke-width="1.8"/>
<ellipse cx="1054.65" cy="1140.4" rx="2.9" ry="6.8" fill="#231f20" stroke="none"/>
<rect x="1014.8000000000001" y="1194.2" width="7.0" height="36.1" stroke-width="2.2"/>
<rect x="1014.8" y="1223.5" width="7" height="6.8" fill="#231f20" stroke="none"/>
<ellipse cx="1018.3000000000001" cy="1202.3" rx="7.6" ry="3.4" stroke-width="2.4"/>
<line x1="1010.0" y1="1202.0" x2="1010.0" y2="1213.0" stroke-width="3.4"/>
<line x1="1010.0" y1="1223.2" x2="1010.0" y2="1235.0" stroke-width="3.4"/>
<line x1="1025.8" y1="1202.5" x2="1025.8" y2="1213.6" stroke-width="1.1"/>
<line x1="1025.8" y1="1223.2" x2="1025.8" y2="1235.0" stroke-width="1.1"/>
<line x1="1027.8" y1="1202.5" x2="1027.8" y2="1213.6" stroke-width="1.1"/>
<line x1="1027.8" y1="1223.2" x2="1027.8" y2="1235.0" stroke-width="1.1"/>
<circle cx="1018.3000000000001" cy="1259.2" r="21.2" stroke-width="2.3"/>
<path d="M 997.8,1264.2 A 21.2,21.2 0 0 0 1023.3,1279.8" stroke-width="3.4"/>
<ellipse cx="1018.3000000000001" cy="1256.9" rx="13.2" ry="12.6" stroke-width="3.0"/>
<line x1="1008.8" y1="1245.2" x2="1027.8" y2="1245.2" stroke-width="2.6"/>
<line x1="1010.0" y1="1245.2" x2="1010.0" y2="1274.2" stroke-width="2.8"/>
<line x1="1025.8" y1="1245.2" x2="1025.8" y2="1274.2" stroke-width="1.1"/>
<line x1="1027.8" y1="1245.2" x2="1027.8" y2="1274.2" stroke-width="1.1"/>
<line x1="1018.3000000000001" y1="1247.7" x2="1018.3000000000001" y2="1268.2" stroke-width="1.6"/>
<path d="M 1009.3,1252.7 Q 1018.3000000000001,1248.2 1027.3,1252.7" stroke-width="1.8"/>
<path d="M 1009.3,1259.7 Q 1018.3000000000001,1254.7 1027.3,1259.7" stroke-width="1.8"/>
<ellipse cx="1018.3000000000001" cy="1264.2" rx="8.3" ry="4.6" stroke-width="1.8"/>
<path d="M 1007.3,1278.7 Q 1018.3000000000001,1283.2 1029.3,1278.7" stroke-width="1.3"/>
<line x1="927.6" y1="1182.9" x2="971.1" y2="1182.9" stroke-width="1.8"/>
<line x1="1065.3" y1="1182.9" x2="1109.1" y2="1182.9" stroke-width="1.8"/>
<line x1="936" y1="1187.6" x2="1102" y2="1187.6" stroke-width="1.5" stroke-dasharray="14,8"/>
<line x1="907.8" y1="1153.0" x2="928.5" y2="1153.0" stroke-width="1.8"/>
<line x1="908.6" y1="1152.0" x2="908.6" y2="1282.0" stroke-width="3.3"/>
<line x1="908.6" y1="1307.0" x2="908.6" y2="1506.0" stroke-width="3.3"/>
<line x1="927.6" y1="1152.0" x2="927.6" y2="1522.9" stroke-width="1.8"/>
<line x1="917.0" y1="1522.1" x2="928.5" y2="1522.1" stroke-width="1.8"/>
<line x1="1109.1" y1="1152.0" x2="1109.1" y2="1522.9" stroke-width="1.8"/>
<line x1="1108.2" y1="1153.0" x2="1116.0" y2="1153.0" stroke-width="1.8"/>
<line x1="1127.7" y1="1170.8" x2="1127.7" y2="1282.0" stroke-width="3.3"/>
<line x1="1127.7" y1="1307.0" x2="1127.7" y2="1522.1" stroke-width="3.3"/>
<line x1="1108.2" y1="1522.1" x2="1129.3" y2="1522.1" stroke-width="1.8"/>
<line x1="922.4" y1="1292.5" x2="1105.2" y2="1292.5" stroke-width="1.6" stroke-dasharray="11.8,9.6"/>
<line x1="922.4" y1="1298.0" x2="1105.2" y2="1298.0" stroke-width="2.2" stroke-dasharray="11.8,9.6"/>
<line x1="1010.0" y1="1287.3" x2="1010.0" y2="1303.2" stroke-width="3.6"/>
<line x1="1010.0" y1="1312.4" x2="1010.0" y2="1462.0" stroke-width="3.6" stroke-dasharray="11,10.4"/>
<line x1="1025.3" y1="1287.3" x2="1025.3" y2="1303.2" stroke-width="1.1"/>
<line x1="1025.3" y1="1312.4" x2="1025.3" y2="1462.0" stroke-width="1.1" stroke-dasharray="11,10.4"/>
<line x1="1027.5" y1="1287.3" x2="1027.5" y2="1303.2" stroke-width="1.1"/>
<line x1="1027.5" y1="1312.4" x2="1027.5" y2="1462.0" stroke-width="1.1" stroke-dasharray="11,10.4"/>
<path d="M 1010.0,1462 L 1010.0,1472.4 Q 1010.5,1479 1018.3,1479 Q 1026.4,1479 1026.4,1472.4 L 1026.4,1462" stroke-width="2.2"/>
<ellipse cx="1018.3" cy="1472.4" rx="8.2" ry="4.0" stroke-width="2.0"/>
<line x1="927.6" y1="1492.0" x2="1109.1" y2="1492.0" stroke-width="1.8"/>
<rect x="1007.8" y="1486.6" width="20.6" height="29.2" stroke-width="1.6"/>
<path d="M 1008.5,1490.5 Q 1018.1,1487.2 1027.7,1490.5" stroke-width="1.1"/>
<circle cx="909.1" cy="1294.5" r="7.6" stroke-width="3.0"/>
<ellipse cx="909.1" cy="1294.5" rx="1.5" ry="2.1" fill="#231f20" stroke="none"/>
<circle cx="910.1" cy="1518.3" r="7.6" stroke-width="3.0"/>
<ellipse cx="910.1" cy="1518.3" rx="1.5" ry="2.1" fill="#231f20" stroke="none"/>
<circle cx="1127.7" cy="1156.1" r="7.6" stroke-width="3.0"/>
<ellipse cx="1127.7" cy="1156.1" rx="1.5" ry="2.1" fill="#231f20" stroke="none"/>
<circle cx="1126.8" cy="1294.5" r="7.6" stroke-width="3.0"/>
<ellipse cx="1126.8" cy="1294.5" rx="1.5" ry="2.1" fill="#231f20" stroke="none"/>
</g>
<text transform="translate(126.34 1049.8) scale(1 1.041)" font-size="13.3" text-anchor="middle" letter-spacing="0.273">028-03242</text>
<text transform="translate(520.64 1049.8) scale(1 1.041)" font-size="13.3" text-anchor="middle" letter-spacing="0.273">028-03242</text>
<text transform="translate(852.94 1049.8) scale(1 1.041)" font-size="13.3" text-anchor="middle" letter-spacing="0.273">028-03242</text>
<text transform="translate(1185.64 1049.8) scale(1 1.041)" font-size="13.3" text-anchor="middle" letter-spacing="0.273">028-03242</text>
<text transform="translate(519.14 1506.5) scale(1 1.041)" font-size="13.3" text-anchor="middle" letter-spacing="0.273">028-03242</text>
<text transform="translate(852.64 1506.5) scale(1 1.041)" font-size="13.3" text-anchor="middle" letter-spacing="0.273">028-03242</text>
<text transform="translate(853.44 1213.0) scale(1 1.041)" font-size="13.3" text-anchor="middle" letter-spacing="0.273">028-09951</text>
<text transform="translate(525.44 1327.8) scale(1 1.041)" font-size="13.3" text-anchor="middle" letter-spacing="0.273">028-09951</text>
<text transform="translate(853.24 1334.8) scale(1 1.041)" font-size="13.3" text-anchor="middle" letter-spacing="0.273">028-09951</text>
<text transform="translate(1186.74 1303.5) scale(1 1.041)" font-size="13.3" text-anchor="middle" letter-spacing="0.273">028-09951</text>
<text transform="translate(324.02 1585.0) scale(1 1.041)" font-size="22.35" text-anchor="middle" letter-spacing="0.24">1-PASS</text>
<text transform="translate(683.02 1584.4) scale(1 1.041)" font-size="22.35" text-anchor="middle" letter-spacing="0.24">2-PASS</text>
<text transform="translate(1022.82 1583.8) scale(1 1.041)" font-size="22.35" text-anchor="middle" letter-spacing="0.24">3-PASS</text>
<text transform="translate(1170.2 1584.8) scale(1 1.041)" font-size="13.4">LD13153</text>
<text transform="translate(82.4 1658.0) scale(1 1.041)" font-size="22.6" letter-spacing="0.608"><tspan font-weight="bold">FIGURE 50 - </tspan>CONDENSER 300 LB. MARINE WATERBOX GASKET</text>
<line x1="82" y1="1671.1" x2="1227" y2="1671.1" stroke="#231f20" stroke-width="3.2"/>
<text transform="translate(81.9 1746.2) scale(1 1.041)" font-size="21.8" letter-spacing="0.2"><tspan font-weight="bold">100</tspan></text>
<text transform="translate(1023.6 1745.5) scale(1 1.041)" font-size="18.4" letter-spacing="0.428">JOHNSON CONTROLS</text>
</svg>
</body></html>
